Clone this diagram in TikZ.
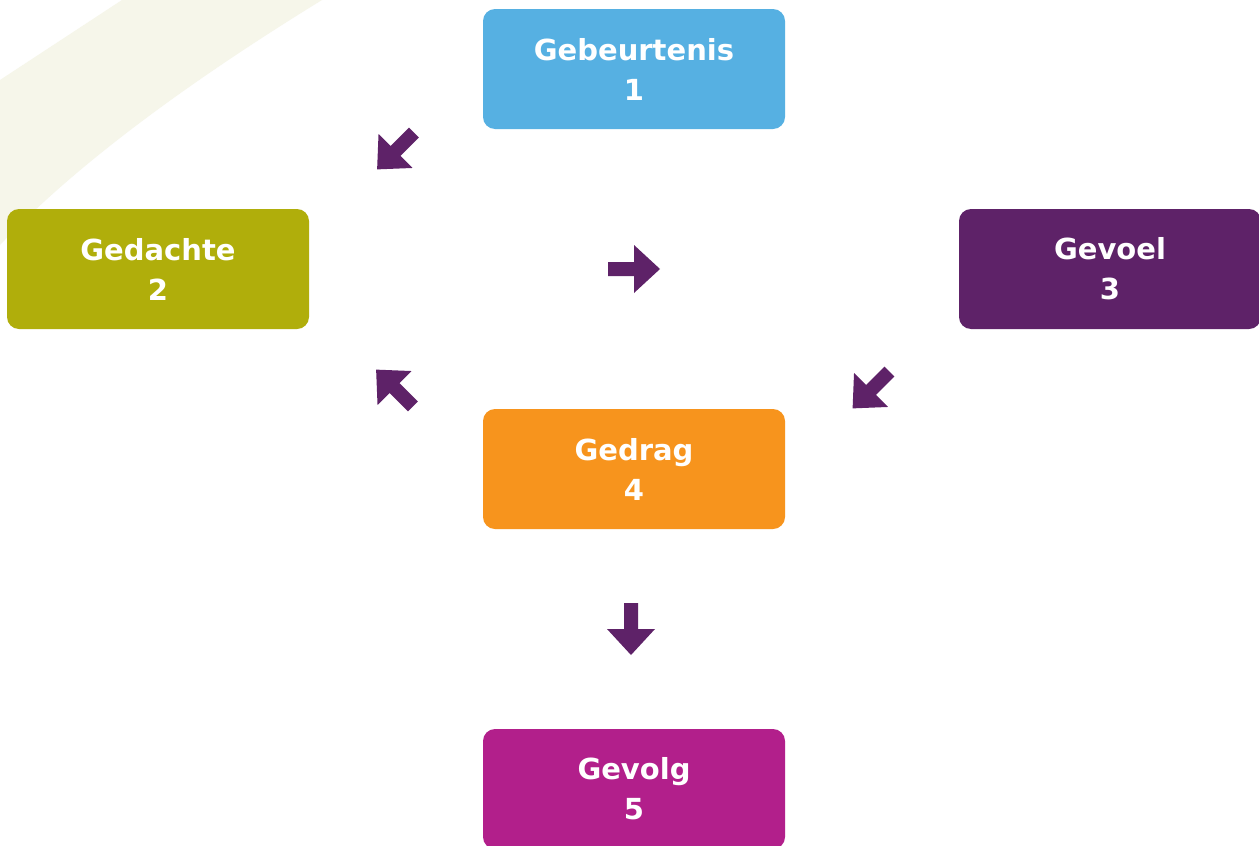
\documentclass[tikz,border=0pt]{standalone}
\usepackage{fontspec}
\setmainfont{DejaVu Sans}
\definecolor{cblue}{HTML}{56B0E2}
\definecolor{colive}{HTML}{B0AE0B}
\definecolor{cpurple}{HTML}{5E2268}
\definecolor{corange}{HTML}{F7941D}
\definecolor{cmagenta}{HTML}{B21F8B}
\definecolor{cbeige}{HTML}{F6F6EA}
\begin{document}
\begin{tikzpicture}[x=1pt,y=-1pt,
  stepbox/.style={rectangle,rounded corners=12pt,minimum width=302pt,minimum height=120pt,
    inner sep=0pt,text=white,align=center,font=\fontsize{29}{40}\selectfont\bfseries},
  blockarr/.pic={\fill[cpurple] (-26,-7) -- (0,-7) -- (0,-24) -- (26,0) -- (0,24) -- (0,7) -- (-26,7) -- cycle;}]
\useasboundingbox (0,0) rectangle (1259,846);
\fill[white] (0,0) rectangle (1259,846);
% background swoosh
\fill[cbeige] (0,80) -- (122,0) -- (322,0) .. controls (200,75) and (80,160) .. (0,245) -- cycle;
% boxes
\node[stepbox,fill=cblue] (geb) at (634,69) {Gebeurtenis\\1};
\node[stepbox,fill=colive] (ged) at (158,269) {Gedachte\\2};
\node[stepbox,fill=cpurple] (gev) at (1110,269) {Gevoel\\3};
\node[stepbox,fill=corange] (gdr) at (634,469) {Gedrag\\4};
\node[stepbox,fill=cmagenta] (gvl) at (634,789) {Gevolg\\5};
% block arrows
\pic[rotate=225] at (395.5,151) {blockarr};
\pic[rotate=0] at (634,269) {blockarr};
\pic[rotate=135] at (394.5,388) {blockarr};
\pic[rotate=225] at (871,390) {blockarr};
\pic[rotate=-90] at (631,629) {blockarr};
\end{tikzpicture}
\end{document}
